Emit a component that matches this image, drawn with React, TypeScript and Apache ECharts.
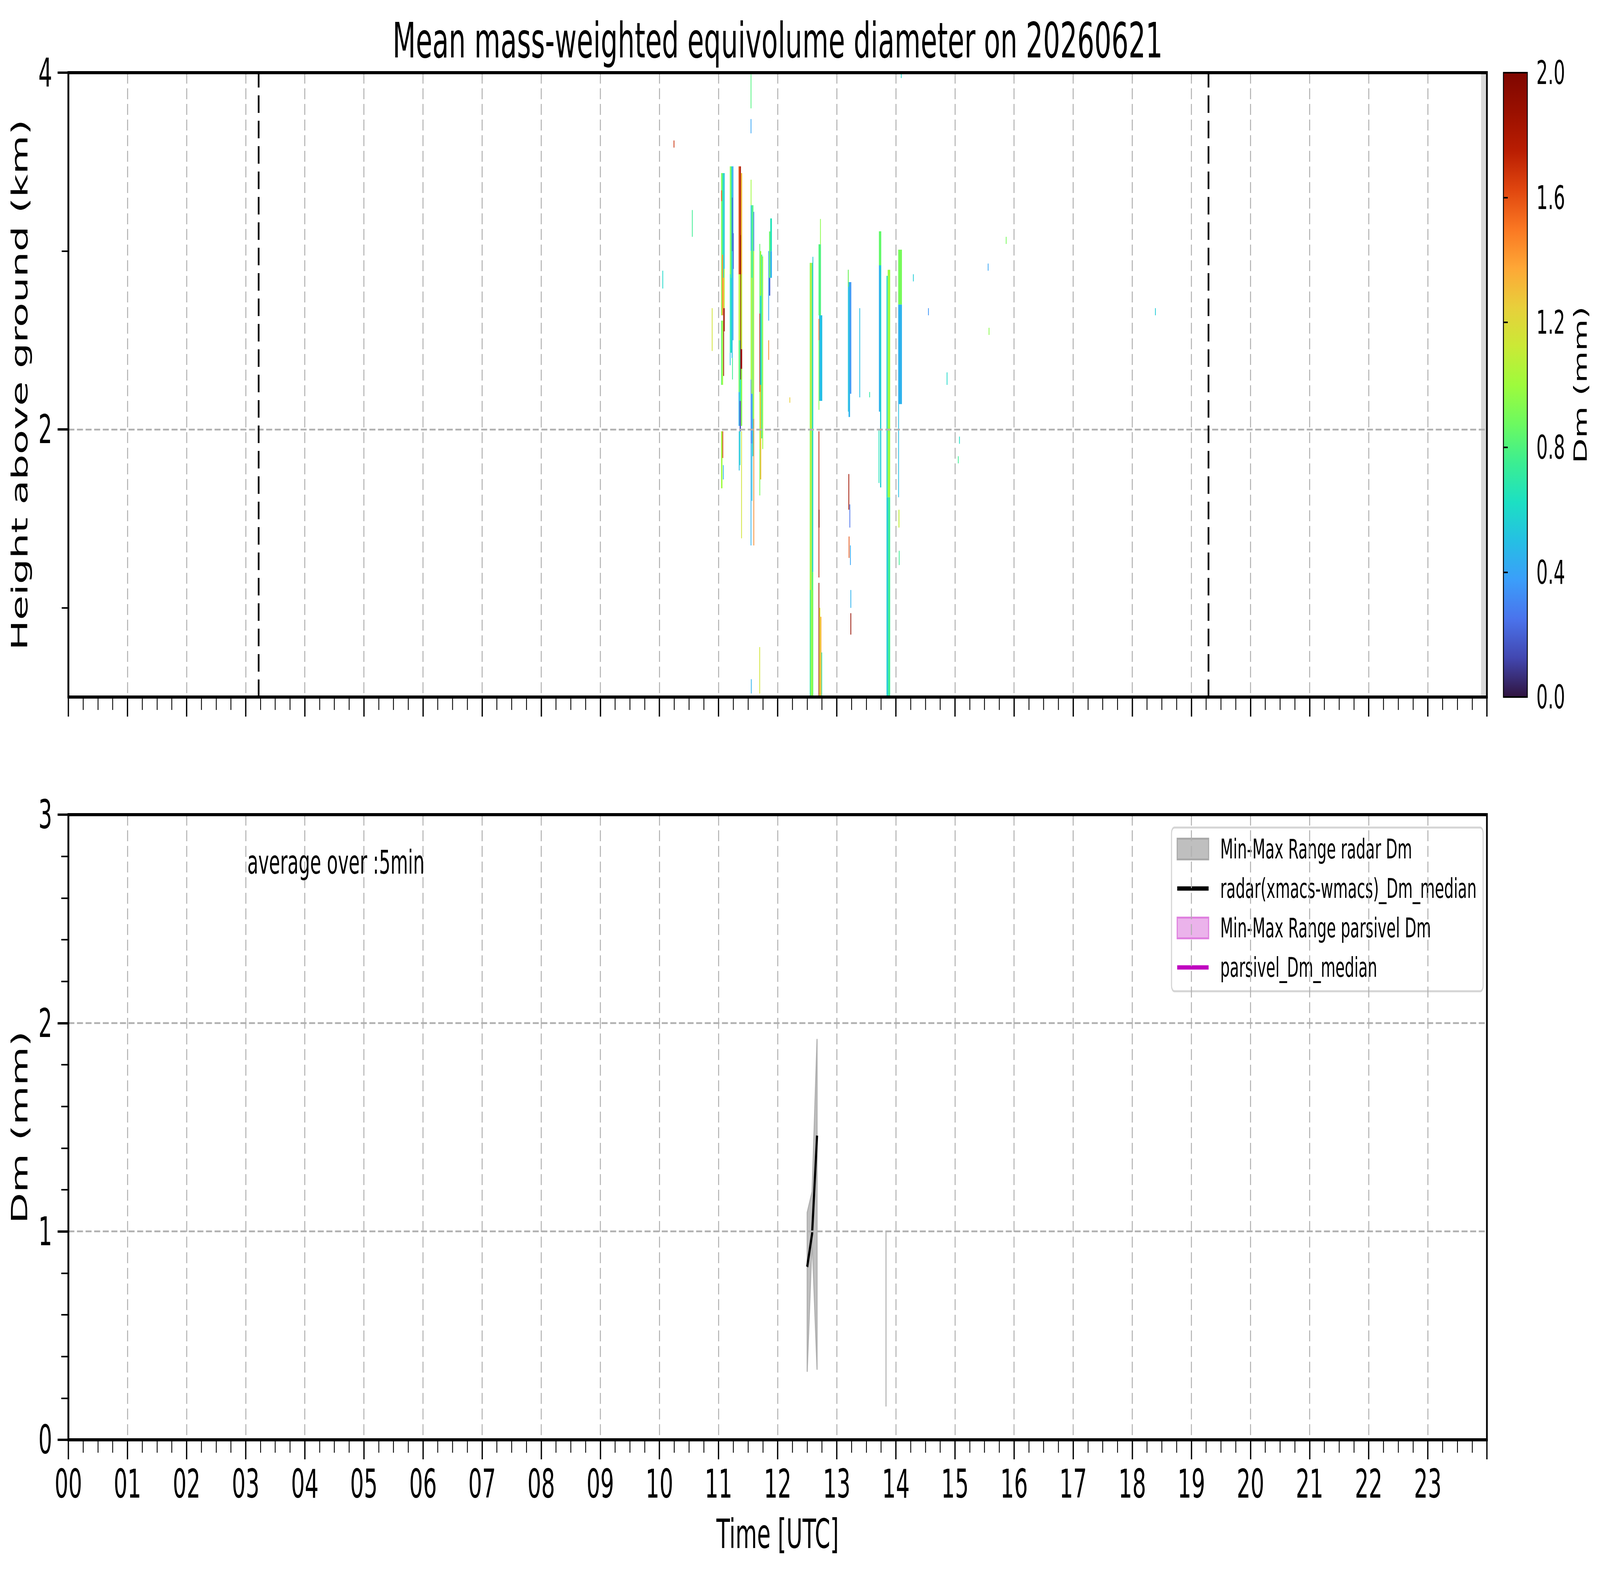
import React, { useEffect, useRef, useState } from "react";
import * as echarts from "echarts";

const FONT = "DejaVu Sans";
const TITLE = "Mean mass-weighted equivolume diameter on 20260621";
const NOTE = "average over :5min";

const HOUR_LABELS = [
  "00", "01", "02", "03", "04", "05", "06", "07", "08", "09", "10", "11",
  "12", "13", "14", "15", "16", "17", "18", "19", "20", "21", "22", "23",
];
const HEIGHT_RANGE = [0.5, 4];
const HEIGHT_MAJOR = [2, 4];
const HEIGHT_MINOR = [1, 3];
const DM_RANGE = [0, 3];
const CBAR_RANGE = [0, 2];
const CBAR_TICK_STEP = 0.4;

// sunrise / sunset (hours UTC) and span without radar data
const SUN_EVENTS = [3.22, 19.29];
const NO_DATA_SPAN = [23.9, 24];

// colour map (Dm 0 -> 2 mm)
const CMAP = [
  "#30143f", "#4247b0", "#4a73ec", "#3b9efa", "#25bfe4", "#1ce0c3",
  "#3bee92", "#6cfa60", "#9efb3c", "#cbe936", "#e8cf3b", "#fea736",
  "#fa7722", "#e0460f", "#b91d02", "#9a1000", "#7f0600",
];

// radar Dm cells: [t start (h), t end (h), bottom (km), top (km), Dm (mm)]
const CELLS_SCATTER = [
  [10.05, 10.054, 2.79, 2.89, 0.6],
  [10.24, 10.244, 3.58, 3.62, 1.7],
  [10.55, 10.554, 3.08, 3.23, 0.75],
  [10.886, 10.89, 2.44, 2.68, 1.15],
  [12.2, 12.204, 2.15, 2.18, 1.25],
  [13.55, 13.554, 2.18, 2.21, 0.7],
  [14.29, 14.294, 2.83, 2.87, 0.55],
  [14.545, 14.549, 2.64, 2.68, 0.35],
  [14.86, 14.864, 2.25, 2.32, 0.6],
  [15.05, 15.054, 1.81, 1.85, 0.75],
  [15.07, 15.074, 1.92, 1.96, 0.62],
  [15.555, 15.559, 2.89, 2.93, 0.4],
  [15.57, 15.574, 2.53, 2.57, 0.95],
  [15.86, 15.864, 3.04, 3.08, 0.9],
  [18.385, 18.389, 2.64, 2.68, 0.55],
  [11.548, 11.552, 0.52, 0.6, 0.45],
  [11.69, 11.694, 0.52, 0.78, 1.15],
];
const CELLS_1100 = [
  [11.043, 11.06, 2.64, 3.437, 0.95],
  [11.043, 11.06, 3.28, 3.34, 1.55],
  [11.043, 11.06, 2.25, 2.61, 0.85],
  [11.06, 11.077, 2.98, 3.437, 0.75],
  [11.06, 11.077, 2.64, 2.98, 1.45],
  [11.06, 11.077, 2.25, 2.61, 1.0],
  [11.077, 11.092, 2.85, 3.437, 0.6],
  [11.077, 11.092, 2.68, 2.85, 1.35],
  [11.08, 11.088, 2.3, 2.68, 1.9],
  [11.092, 11.103, 2.9, 3.437, 0.5],
  [11.092, 11.103, 2.68, 2.9, 1.05],
  [11.092, 11.103, 2.55, 2.68, 1.85],
  [11.043, 11.066, 1.67, 1.99, 1.0],
  [11.066, 11.075, 1.84, 1.99, 1.65],
  [11.075, 11.079, 1.72, 1.8, 0.45],
];
const CELLS_1112 = [
  [11.191, 11.206, 2.87, 3.475, 0.95],
  [11.191, 11.206, 2.43, 2.87, 0.65],
  [11.191, 11.2, 2.36, 2.43, 0.5],
  [11.206, 11.222, 2.85, 3.475, 0.8],
  [11.206, 11.222, 2.43, 2.85, 0.6],
  [11.222, 11.238, 2.4, 3.475, 0.5],
  [11.227, 11.232, 3.0, 3.3, 0.15],
  [11.238, 11.252, 2.5, 3.475, 0.4],
  [11.245, 11.25, 2.9, 3.1, 0.2],
  [11.23, 11.24, 2.28, 2.4, 0.75],
];
const CELLS_1121 = [
  [11.339, 11.357, 2.87, 3.475, 1.6],
  [11.339, 11.357, 2.5, 2.87, 1.1],
  [11.339, 11.357, 2.21, 2.5, 0.9],
  [11.339, 11.357, 2.02, 2.21, 0.45],
  [11.343, 11.357, 1.77, 1.99, 0.5],
  [11.357, 11.379, 2.87, 3.475, 1.78],
  [11.357, 11.379, 2.5, 2.87, 1.05],
  [11.357, 11.379, 2.16, 2.5, 0.65],
  [11.357, 11.379, 1.99, 2.16, 0.15],
  [11.357, 11.37, 1.8, 1.99, 0.6],
  [11.369, 11.372, 2.28, 3.09, 1.95],
  [11.379, 11.4, 2.87, 3.437, 1.3],
  [11.379, 11.4, 2.45, 2.87, 1.1],
  [11.379, 11.4, 2.34, 2.45, 1.85],
  [11.379, 11.4, 2.02, 2.34, 0.95],
  [11.383, 11.392, 1.39, 1.99, 1.15],
];
const CELLS_1133 = [
  [11.543, 11.549, 3.8, 3.99, 0.8],
  [11.543, 11.549, 3.66, 3.74, 0.4],
  [11.544, 11.547, 3.257, 3.4, 1.0],
  [11.543, 11.556, 3.0, 3.257, 0.5],
  [11.543, 11.556, 2.28, 3.0, 0.95],
  [11.543, 11.556, 1.92, 2.28, 0.35],
  [11.543, 11.552, 1.35, 1.92, 0.45],
  [11.556, 11.575, 2.85, 3.257, 0.75],
  [11.556, 11.575, 2.2, 2.85, 1.05],
  [11.556, 11.575, 1.92, 2.2, 0.35],
  [11.56, 11.57, 1.6, 1.92, 0.5],
  [11.575, 11.59, 2.06, 3.257, 0.8],
  [11.575, 11.59, 1.85, 2.06, 0.6],
  [11.59, 11.601, 3.0, 3.22, 0.3],
  [11.59, 11.601, 2.06, 3.0, 1.1],
  [11.59, 11.601, 1.35, 2.06, 1.45],
];
const CELLS_1142 = [
  [11.692, 11.703, 2.65, 3.04, 0.85],
  [11.692, 11.703, 2.21, 2.65, 1.72],
  [11.692, 11.703, 1.89, 2.21, 1.05],
  [11.692, 11.7, 1.63, 1.89, 0.9],
  [11.703, 11.722, 2.75, 3.0, 1.0],
  [11.703, 11.722, 2.25, 2.75, 0.55],
  [11.703, 11.722, 1.72, 2.25, 1.3],
  [11.722, 11.74, 1.95, 2.98, 0.75],
  [11.74, 11.755, 1.89, 2.97, 1.0],
  [11.842, 11.855, 2.61, 3.0, 0.4],
  [11.842, 11.848, 2.39, 2.5, 1.45],
  [11.855, 11.875, 2.85, 3.11, 0.85],
  [11.855, 11.875, 2.75, 2.85, 0.2],
  [11.875, 11.903, 3.0, 3.183, 0.65],
  [11.875, 11.903, 2.85, 3.0, 0.45],
];
const CELLS_1233 = [
  [12.543, 12.555, 1.1, 2.934, 0.95],
  [12.543, 12.555, 0.5, 1.1, 0.7],
  [12.555, 12.575, 1.1, 2.934, 1.12],
  [12.555, 12.575, 0.5, 1.1, 0.9],
  [12.575, 12.59, 1.1, 2.934, 0.8],
  [12.575, 12.59, 0.5, 1.1, 1.0],
  [12.59, 12.601, 1.2, 2.968, 0.55],
  [12.59, 12.601, 0.5, 1.2, 0.85],
  [12.692, 12.733, 2.64, 3.038, 0.8],
  [12.718, 12.721, 3.038, 3.18, 0.95],
  [12.7, 12.755, 2.16, 2.64, 0.5],
  [12.692, 12.7, 2.5, 2.62, 1.5],
  [12.692, 12.7, 2.11, 2.5, 0.95],
  [12.692, 12.701, 1.17, 1.99, 1.75],
  [12.694, 12.699, 1.45, 1.55, 1.97],
  [12.692, 12.703, 0.5, 1.14, 1.85],
  [12.703, 12.722, 0.5, 1.0, 1.2],
  [12.722, 12.74, 0.5, 0.95, 1.35],
  [12.74, 12.747, 0.5, 0.75, 0.7],
];
const CELLS_1312 = [
  [13.189, 13.2, 2.1, 2.895, 0.55],
  [13.189, 13.2, 2.8, 2.895, 0.95],
  [13.2, 13.225, 2.07, 2.826, 0.45],
  [13.225, 13.246, 2.2, 2.826, 0.35],
  [13.198, 13.206, 1.55, 1.75, 1.85],
  [13.202, 13.21, 1.28, 1.4, 1.6],
  [13.215, 13.222, 1.45, 1.58, 0.25],
  [13.225, 13.232, 1.24, 1.35, 0.4],
  [13.232, 13.24, 1.0, 1.1, 0.45],
  [13.232, 13.24, 0.85, 0.97, 1.9],
  [13.383, 13.392, 2.18, 2.68, 0.5],
];
const CELLS_1343 = [
  [13.713, 13.753, 2.92, 3.111, 0.85],
  [13.713, 13.733, 2.1, 2.92, 0.45],
  [13.733, 13.753, 1.675, 2.92, 0.55],
  [13.708, 13.718, 1.7, 2.0, 0.65],
  [13.842, 13.862, 1.62, 2.861, 0.6],
  [13.862, 13.904, 1.62, 2.895, 1.0],
  [13.842, 13.87, 0.5, 1.62, 0.55],
  [13.87, 13.904, 0.5, 1.62, 0.75],
  [14.04, 14.103, 2.7, 3.008, 0.9],
  [14.04, 14.103, 2.142, 2.7, 0.45],
  [14.04, 14.05, 1.62, 2.142, 0.5],
  [14.045, 14.06, 1.45, 1.55, 1.1],
  [14.05, 14.062, 1.24, 1.32, 0.75],
  [14.085, 14.09, 3.97, 4.0, 0.6],
];

// 5-min statistics (bottom panel)
const RADAR_TIME = [12.5, 12.5833, 12.6667, 13.8333];
const RADAR_MIN = [0.33, 0.96, 0.34, 0.16];
const RADAR_MAX = [1.09, 1.19, 1.92, 1.0];
const RADAR_MEDIAN = [0.83, 0.99, 1.46, null];
const PARSIVEL_TIME: number[] = [];
const PARSIVEL_MIN: number[] = [];
const PARSIVEL_MAX: number[] = [];
const PARSIVEL_MEDIAN: number[] = [];

const SERIES_NAMES = [
  "Min-Max Range radar Dm",
  "radar(xmacs-wmacs)_Dm_median",
  "Min-Max Range parsivel Dm",
  "parsivel_Dm_median",
];

// layout of the 7442 x 4031 frame (px)
const W = 7442;
const H = 4031;
const PLOT_LEFT = 318;
const PLOT_WIDTH = 6598;
const TOP1 = 186;
const H1 = 1598;
const TOP2 = 2085;
const H2 = 1600;
const CB_LEFT = 6993;
const CB_WIDTH = 111;

function rangeRenderer(fill: string, stroke: string, single: string) {
  return (params: any, api: any) => {
    const n = params.dataInsideLength;
    const i = params.dataIndexInside;
    const gap = 0.1;
    if (i > 0 && api.value(0, i) - api.value(0, i - 1) <= gap) return null;
    let j = i;
    while (j + 1 < n && api.value(0, j + 1) - api.value(0, j) <= gap) j++;
    if (j === i) {
      const p = api.coord([api.value(0, i), api.value(2, i)]);
      const q = api.coord([api.value(0, i), api.value(1, i)]);
      return {
        type: "line",
        shape: { x1: p[0], y1: p[1], x2: q[0], y2: q[1] },
        style: { stroke: single, lineWidth: 6 },
      };
    }
    const pts: number[][] = [];
    for (let k = i; k <= j; k++) pts.push(api.coord([api.value(0, k), api.value(2, k)]));
    for (let k = j; k >= i; k--) pts.push(api.coord([api.value(0, k), api.value(1, k)]));
    return {
      type: "polygon",
      shape: { points: pts },
      style: { fill, stroke, lineWidth: 5, lineJoin: "round" },
    };
  };
}

// the browser may not give the full 7442 px width: fit the fixed frame to the page
function viewScale() {
  if (typeof window === "undefined") return { sx: 1, sy: 1 };
  return { sx: window.innerWidth / W, sy: window.innerHeight / H };
}

export default function App() {
  const ref = useRef<HTMLDivElement>(null);
  const [scale] = useState(viewScale);

  useEffect(() => {
    const el = ref.current;
    if (!el) return;
    const chart = echarts.init(el, undefined, { renderer: "svg", width: W, height: H });

    const cells = [
      ...CELLS_SCATTER, ...CELLS_1100, ...CELLS_1112, ...CELLS_1121, ...CELLS_1133,
      ...CELLS_1142, ...CELLS_1233, ...CELLS_1312, ...CELLS_1343,
    ];

    const gridLine = { show: true, lineStyle: { color: "#b0b0b0", width: 4.5, type: [28, 12] } };
    const axisLine = { show: true, onZero: false, lineStyle: { color: "#000", width: 8 } };
    const majorTick = { show: true, length: 50, lineStyle: { color: "#000", width: 6 } };
    const labelStyle = { fontFamily: FONT, fontSize: 101, color: "#000" };
    const nameStyle = { fontFamily: FONT, fontSize: 103, color: "#000" };

    const xCommon = {
      type: "value",
      min: 0,
      max: 24,
      interval: 1,
      z: 5,
      axisLine,
      axisTick: majorTick,
      minorTick: { show: true, splitNumber: 4, length: 33, lineStyle: { color: "#000", width: 4 } },
      splitLine: gridLine,
    };

    const option: any = {
      animation: false,
      backgroundColor: "#fff",
      textStyle: { fontFamily: FONT },
      grid: [
        { left: PLOT_LEFT, top: TOP1, width: PLOT_WIDTH, height: H1, show: true, borderColor: "#000", borderWidth: 8, backgroundColor: "transparent", z: 10 },
        { left: PLOT_LEFT, top: TOP2, width: PLOT_WIDTH, height: H2, show: true, borderColor: "#000", borderWidth: 8, backgroundColor: "transparent", z: 10 },
        { left: CB_LEFT, top: TOP1, width: CB_WIDTH, height: H1, show: true, borderColor: "#000", borderWidth: 4, backgroundColor: "transparent", z: 10 },
      ],
      xAxis: [
        { ...xCommon, gridIndex: 0, axisLabel: { show: false } },
        {
          ...xCommon,
          gridIndex: 1,
          axisLabel: { ...labelStyle, margin: 62, formatter: (v: number) => HOUR_LABELS[v] ?? "" },
          name: "Time [UTC]",
          nameLocation: "middle",
          nameGap: 190,
          nameTextStyle: nameStyle,
        },
        { type: "value", gridIndex: 2, min: 0, max: 1, show: false },
      ],
      yAxis: [
        {
          type: "value",
          gridIndex: 0,
          position: "left",
          min: HEIGHT_RANGE[0],
          max: HEIGHT_RANGE[1],
          z: 5,
          axisLine,
          axisTick: { ...majorTick, customValues: HEIGHT_MAJOR },
          axisLabel: { ...labelStyle, margin: 75, customValues: HEIGHT_MAJOR },
          splitLine: gridLine,
          name: "Height above ground (km)",
          nameLocation: "middle",
          nameGap: 175,
          nameTextStyle: nameStyle,
        },
        {
          type: "value",
          gridIndex: 0,
          position: "left",
          min: HEIGHT_RANGE[0],
          max: HEIGHT_RANGE[1],
          z: 5,
          axisLine: { show: false },
          axisTick: { show: true, length: 31, lineStyle: { color: "#000", width: 4 }, customValues: HEIGHT_MINOR },
          axisLabel: { show: false },
          splitLine: { show: false },
        },
        {
          type: "value",
          gridIndex: 1,
          position: "left",
          min: DM_RANGE[0],
          max: DM_RANGE[1],
          interval: 1,
          z: 5,
          axisLine,
          axisTick: majorTick,
          minorTick: { show: true, splitNumber: 5, length: 33, lineStyle: { color: "#000", width: 4 } },
          axisLabel: { ...labelStyle, margin: 75 },
          splitLine: gridLine,
          name: "Dm (mm)",
          nameLocation: "middle",
          nameGap: 175,
          nameTextStyle: nameStyle,
        },
        {
          type: "value",
          gridIndex: 2,
          position: "right",
          min: CBAR_RANGE[0],
          max: CBAR_RANGE[1],
          interval: CBAR_TICK_STEP,
          z: 5,
          axisLine: { show: true, lineStyle: { color: "#000", width: 4 } },
          axisTick: { show: true, length: 20, lineStyle: { color: "#000", width: 4 } },
          axisLabel: { fontFamily: FONT, fontSize: 84, color: "#000", margin: 42, formatter: (v: number) => v.toFixed(1) },
          splitLine: { show: false },
          name: "Dm (mm)",
          nameLocation: "middle",
          nameGap: 205,
          nameTextStyle: { fontFamily: FONT, fontSize: 84, color: "#000" },
        },
      ],
      visualMap: {
        type: "continuous",
        show: false,
        seriesIndex: 0,
        dimension: 4,
        min: CBAR_RANGE[0],
        max: CBAR_RANGE[1],
        inRange: { color: CMAP },
      },
      legend: {
        orient: "vertical",
        left: 5449,
        top: 2118,
        padding: [20, 30, 26, 24],
        itemGap: 31,
        itemWidth: 146,
        itemHeight: 53,
        symbolKeepAspect: true,
        selectedMode: false,
        backgroundColor: "rgba(255,255,255,0.8)",
        borderColor: "#d4d4d4",
        borderWidth: 5,
        borderRadius: 14,
        textStyle: { fontFamily: FONT, fontSize: 70, color: "#000", padding: [0, 0, 0, 49] },
        data: [
          { name: SERIES_NAMES[0], icon: "rect", itemStyle: { color: "#bfbfbf", borderColor: "#a9a9a9", borderWidth: 5 } },
          { name: SERIES_NAMES[1], icon: "path://M0,0H146V11H0Z", itemStyle: { color: "#000", borderWidth: 0 } },
          { name: SERIES_NAMES[2], icon: "rect", itemStyle: { color: "#ebb3eb", borderColor: "#df80df", borderWidth: 5 } },
          { name: SERIES_NAMES[3], icon: "path://M0,0H146V11H0Z", itemStyle: { color: "#bf00bf", borderWidth: 0 } },
        ],
      },
      graphic: [
        {
          type: "text",
          x: PLOT_LEFT + PLOT_WIDTH / 2,
          y: 104,
          style: { text: TITLE, font: `125px '${FONT}'`, fill: "#000", textAlign: "center", textVerticalAlign: "middle" },
        },
        {
          type: "text",
          x: 1150,
          y: 2207,
          z: 20,
          style: { text: NOTE, font: `84px '${FONT}'`, fill: "#000", textAlign: "left", textVerticalAlign: "middle" },
        },
      ],
      series: [
        {
          type: "custom",
          name: "radar Dm",
          xAxisIndex: 0,
          yAxisIndex: 0,
          clip: true,
          z: 2,
          encode: { x: [0, 1], y: [2, 3] },
          data: cells,
          renderItem: (params: any, api: any) => {
            const a = api.coord([api.value(0), api.value(3)]);
            const b = api.coord([api.value(1), api.value(2)]);
            return {
              type: "rect",
              shape: { x: a[0], y: a[1], width: Math.max(b[0] - a[0], 3.5), height: b[1] - a[1] },
              style: { fill: api.visual("color") },
            };
          },
        },
        {
          type: "line",
          name: "markers",
          xAxisIndex: 0,
          yAxisIndex: 0,
          data: [],
          silent: true,
          markArea: {
            silent: true,
            itemStyle: { color: "#d9d9d9" },
            data: [[{ xAxis: NO_DATA_SPAN[0] }, { xAxis: NO_DATA_SPAN[1] }]],
          },
          markLine: {
            silent: true,
            symbol: ["none", "none"],
            label: { show: false },
            lineStyle: { color: "#000", width: 8, type: [45, 20] },
            data: SUN_EVENTS.map((v) => ({ xAxis: v })),
          },
        },
        {
          type: "custom",
          name: SERIES_NAMES[0],
          xAxisIndex: 1,
          yAxisIndex: 2,
          clip: true,
          z: 3,
          itemStyle: { color: "#bfbfbf" },
          encode: { x: 0, y: [1, 2] },
          data: RADAR_TIME.map((t, i) => [t, RADAR_MIN[i], RADAR_MAX[i]]),
          renderItem: rangeRenderer("#c0c0c0", "#b0b0b0", "#c0c0c0"),
        },
        {
          type: "line",
          name: SERIES_NAMES[1],
          xAxisIndex: 1,
          yAxisIndex: 2,
          z: 4,
          symbol: "none",
          color: "#000",
          lineStyle: { color: "#000", width: 10 },
          data: RADAR_TIME.map((t, i) => [t, RADAR_MEDIAN[i]]),
        },
        {
          type: "custom",
          name: SERIES_NAMES[2],
          xAxisIndex: 1,
          yAxisIndex: 2,
          clip: true,
          z: 3,
          itemStyle: { color: "#ebb3eb" },
          encode: { x: 0, y: [1, 2] },
          data: PARSIVEL_TIME.map((t, i) => [t, PARSIVEL_MIN[i], PARSIVEL_MAX[i]]),
          renderItem: rangeRenderer("rgba(204,0,204,0.3)", "rgba(204,0,204,0.4)", "rgba(204,0,204,0.3)"),
        },
        {
          type: "line",
          name: SERIES_NAMES[3],
          xAxisIndex: 1,
          yAxisIndex: 2,
          z: 4,
          symbol: "none",
          color: "#bf00bf",
          lineStyle: { color: "#bf00bf", width: 10 },
          data: PARSIVEL_TIME.map((t, i) => [t, PARSIVEL_MEDIAN[i]]),
        },
        {
          type: "custom",
          name: "colorbar",
          xAxisIndex: 2,
          yAxisIndex: 3,
          silent: true,
          encode: { x: [0, 1], y: [2, 3] },
          data: [[0, 1, CBAR_RANGE[0], CBAR_RANGE[1]]],
          renderItem: (params: any, api: any) => {
            const a = api.coord([api.value(0), api.value(3)]);
            const b = api.coord([api.value(1), api.value(2)]);
            return {
              type: "rect",
              shape: { x: a[0], y: a[1], width: b[0] - a[0], height: b[1] - a[1] },
              style: {
                fill: new echarts.graphic.LinearGradient(
                  0, 1, 0, 0,
                  CMAP.map((c, k) => ({ offset: k / (CMAP.length - 1), color: c }))
                ),
              },
            };
          },
        },
      ],
    };

    chart.setOption(option);
    return () => chart.dispose();
  }, []);

  return (
    <div style={{ position: "fixed", left: 0, top: 0, width: "100vw", height: "100vh", overflow: "hidden", background: "#fff" }}>
      <div
        ref={ref}
        style={{
          width: W,
          height: H,
          transformOrigin: "0 0",
          transform: `scale(${scale.sx}, ${scale.sy})`,
        }}
      />
    </div>
  );
}
